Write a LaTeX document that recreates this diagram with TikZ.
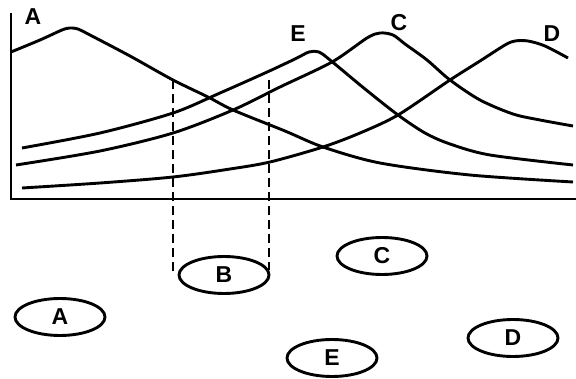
\documentclass[tikz,border=0pt]{standalone}
\usepackage{fontspec}
\setmainfont{Liberation Sans}
\usetikzlibrary{shapes.geometric}
\begin{document}
\begin{tikzpicture}[x=1pt,y=-1pt,
  curve/.style={line width=2.9pt,line join=round},
  axis/.style={line width=2.9pt},
  guide/.style={line width=1.4pt,dash pattern=on 9pt off 5pt},
  oval/.style={ellipse,draw,line width=2.9pt,minimum width=90pt,minimum height=37pt,inner sep=0pt,font=\fontsize{23}{23}\selectfont\bfseries},
  lbl/.style={inner sep=0pt,font=\fontsize{23}{23}\selectfont\bfseries}]
\useasboundingbox (0,0) rectangle (576,379);
% axes
\coordinate (o) at (11,199);
\coordinate (ytop) at (11,13);
\coordinate (xend) at (576,199);
\draw[axis] (ytop) -- (o) -- (xend);
% curves
\draw[curve] plot[smooth,tension=0.5] coordinates {(11,52) (40,40) (62,30) (70,28) (78,29) (90,35) (130,56) (173,80) (208,97) (233,110) (285,131) (323,147) (380,163) (470,175) (573,182)};
\draw[curve] plot[smooth,tension=0.5] coordinates {(22,148) (100,133) (173,113) (220,93) (265,73) (295,59) (309,52) (319,52) (330,60) (365,89) (398,115) (425,133) (450,144) (490,155) (573,165)};
\draw[curve] plot[smooth,tension=0.5] coordinates {(16,165) (100,151) (173,133) (233,110) (280,87) (332,62) (367,38) (380,33) (393,35) (405,44) (427,60) (450,80) (480,100) (513,114) (540,120) (573,126)};
\draw[curve] plot[smooth,tension=0.5] coordinates {(22,188) (100,183) (173,177) (230,169) (270,162) (323,147) (360,133) (398,115) (450,80) (480,61) (505,45) (515,41) (528,41) (545,46) (568,58)};
% curve labels
\node[lbl] (la) at (33,17) {A};
\node[lbl] (le) at (298,34) {E};
\node[lbl] (lc) at (399,23) {C};
\node[lbl] (ld) at (552,34) {D};
% ovals
\node[oval] (A) at (60,317) {A};
\node[oval] (B) at (224,275) {B};
\node[oval] (C) at (382,256) {C};
\node[oval] (D) at (513,338) {D};
\node[oval] (E) at (332,358) {E};
% dashed guides
\coordinate (g1t) at (173,80);
\coordinate (g1b) at (173,275);
\coordinate (g2t) at (269,80);
\coordinate (g2b) at (269,270);
\draw[guide] (g1t) -- (g1b);
\draw[guide] (g2t) -- (g2b);
\end{tikzpicture}
\end{document}
